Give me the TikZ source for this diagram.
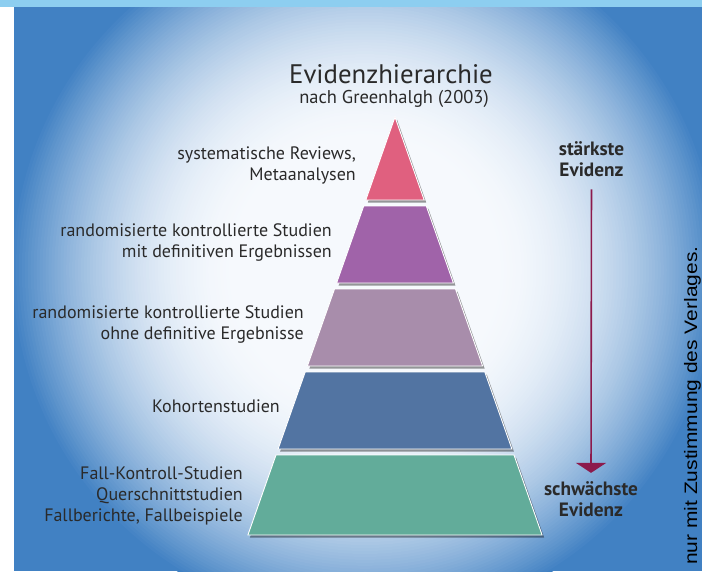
\documentclass[tikz,border=0pt]{standalone}
\usepackage{fontspec}
\setmainfont{PT Sans}
\newfontfamily\arialfont{Liberation Sans}
\usetikzlibrary{shadows,arrows.meta}
\definecolor{bgblue}{HTML}{4181C3}
\definecolor{topblue}{HTML}{8DCEF0}
\definecolor{pinkL}{HTML}{E0607F}
\definecolor{purpleL}{HTML}{A063A9}
\definecolor{mauveL}{HTML}{A88DAB}
\definecolor{blueL}{HTML}{5274A2}
\definecolor{greenL}{HTML}{62AC9A}
\definecolor{arrowred}{HTML}{8C1A4C}
\definecolor{txt}{HTML}{2A2A2A}
\definecolor{g0}{HTML}{F6F9FD}
\begin{document}
\begin{tikzpicture}[x=1pt,y=-1pt,
  layer/.style={draw=white, line width=0.9pt, line join=miter,
    drop shadow={shadow xshift=2pt, shadow yshift=-2.5pt, fill=black, opacity=0.4}},
  lbl/.style={font=\fontsize{18}{21}\selectfont, text=txt, align=right, inner sep=0pt, anchor=base east},
  rlbl/.style={font=\bfseries\fontsize{19.3}{21}\selectfont, text=txt, align=center, inner sep=0pt, anchor=base},
  evarrow/.style={draw=arrowred, line width=1.6pt, -{Triangle[width=30pt,length=10pt]}}]
\useasboundingbox (0,0) rectangle (702,571);
\fill[white] (0,0) rectangle (702,571);
\fill[bgblue] (14,6.5) rectangle (702,571);
\begin{scope}
  \clip (14,6.5) rectangle (702,571);
  \foreach \i in {0,...,119} {
    \pgfmathsetmacro\t{1-\i/120}
    \pgfmathsetmacro\f{100*(max(0,(\t-0.35)/0.65))^2}
    \fill[bgblue!\f!g0] (365,270) circle[radius=355*\t];
  }
\end{scope}
\fill[topblue] (0,0) rectangle (702,6.5);

% pyramid
\filldraw[layer, fill=pinkL] (395,117) -- (424.2,200) -- (365.8,200) -- cycle;
\filldraw[layer, fill=purpleL] (363.7,206) -- (426.3,206) -- (453.4,283) -- (336.6,283) -- cycle;
\filldraw[layer, fill=mauveL] (334.5,289) -- (455.5,289) -- (482.6,366) -- (307.4,366) -- cycle;
\filldraw[layer, fill=blueL] (305.2,372) -- (484.8,372) -- (511.9,449) -- (278.1,449) -- cycle;
\filldraw[layer, fill=greenL] (276,455) -- (514,455) -- (542.1,535) -- (247.9,535) -- cycle;

% title
\node[font=\fontsize{26.8}{30}\selectfont, text=txt, anchor=base, inner sep=0pt] (title) at (391,83) {Evidenzhierarchie};
\node[font=\fontsize{18.5}{21}\selectfont, text=txt, anchor=base, inner sep=0pt] (subtitle) at (394,103) {nach Greenhalgh (2003)};

% labels (base = last line)
\node[lbl] (l1) at (356,180) {systematische Reviews,\\Metaanalysen};
\node[lbl] (l2) at (332,257) {randomisierte kontrollierte Studien\\mit definitiven Ergebnissen};
\node[lbl] (l3) at (304,339) {randomisierte kontrollierte Studien\\ohne definitive Ergebnisse};
\node[lbl] (l4) at (280,412) {Kohortenstudien};
\node[lbl] (l5) at (243,521) {Fall-Kontroll-Studien\\Querschnittstudien\\Fallberichte, Fallbeispiele};

% right side
\node[rlbl] (strong) at (591.5,176) {stärkste\\Evidenz};
\node[rlbl] (weak) at (591,516) {schwächste\\Evidenz};
\draw[evarrow, shorten <=13pt, shorten >=8pt] (strong.south) -- (weak.north);

% vertical note
\node[rotate=90, anchor=base west, inner sep=0pt, font=\arialfont\fontsize{18}{20}\selectfont, text=black] (note) at (697,565) {\scalebox{1.165}[1]{nur mit Zustimmung des Verlages.}};
\end{tikzpicture}
\end{document}
